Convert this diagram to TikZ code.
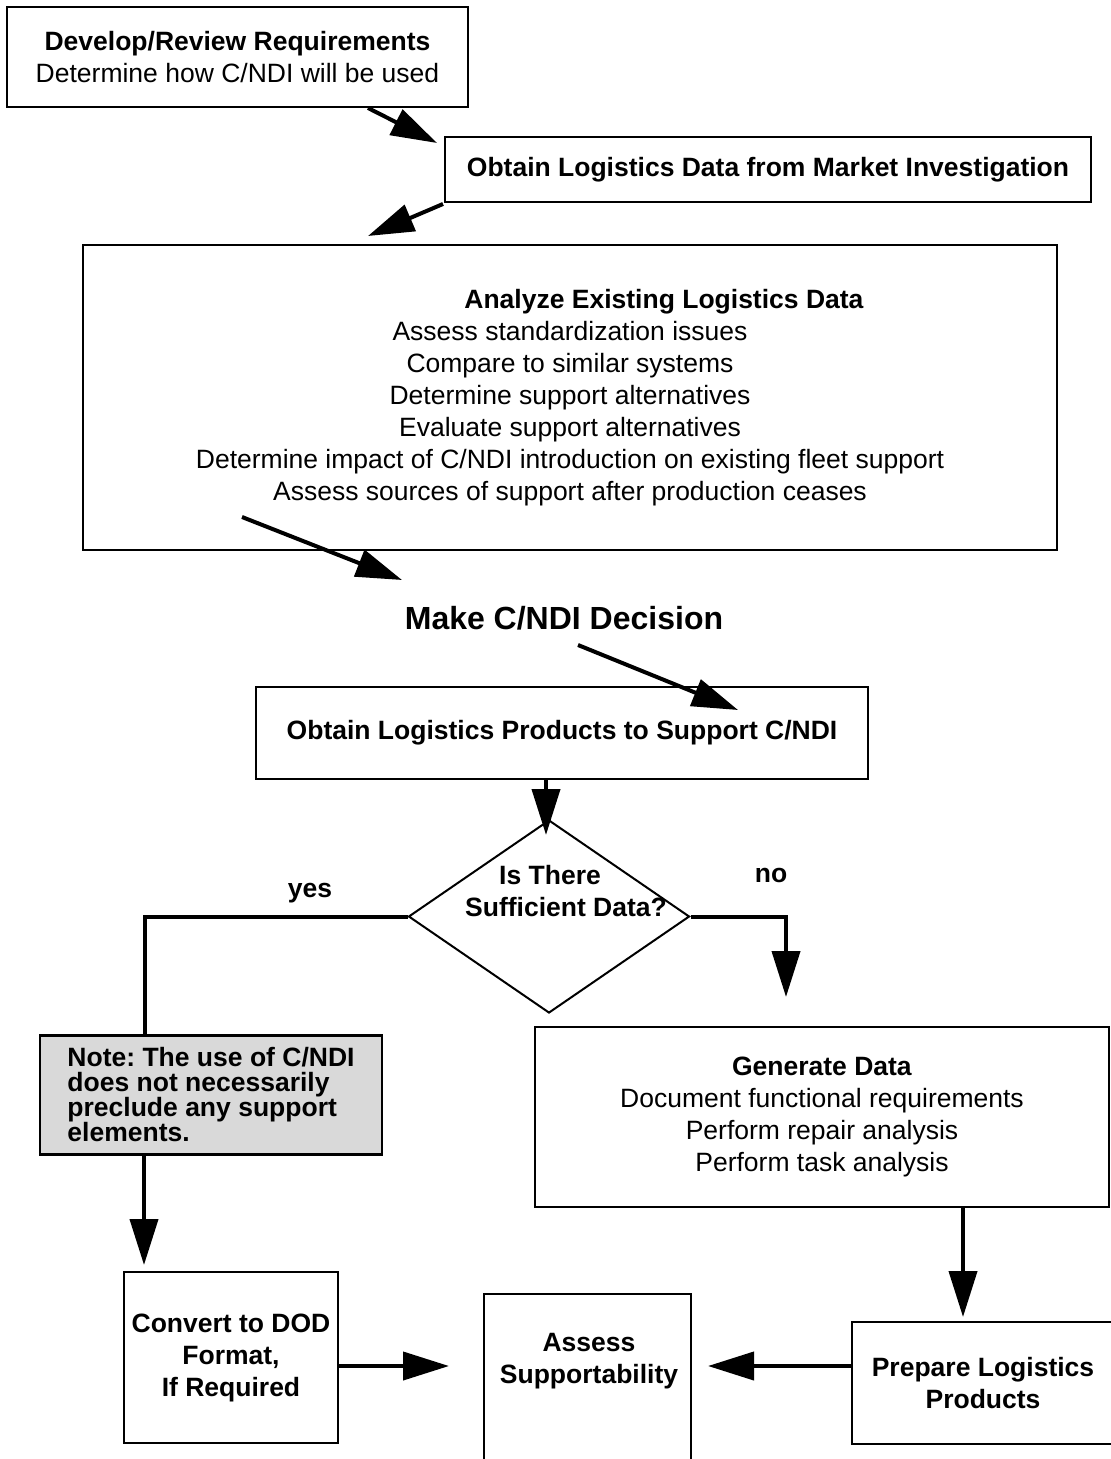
\documentclass[tikz,border=0pt]{standalone}
\usepackage{fontspec}
\setmainfont{Liberation Sans}
\usetikzlibrary{arrows.meta,shapes.geometric}
\frenchspacing
\begin{document}
\begin{tikzpicture}[x=0.5pt,y=-0.5pt,
		box/.style={draw,line width=1.2pt,inner sep=0pt,align=center},
		txt/.style={font=\fontsize{13.25}{16}\selectfont,align=center},
		hd/.style={font=\fontsize{13.25}{16}\selectfont\bfseries,align=center},
		arr/.style={line width=2pt,-{Triangle[length=23pt,width=14pt]}},
		con/.style={line width=2pt}]
				\clip (0,0) rectangle (1111,1459);
				\node[box,txt,minimum width=230.5pt,minimum height=50pt] (dev) at (237.5,57) {\textbf{Develop/Review Requirements}\\Determine how C/NDI will be used};
				\node[box,hd,minimum width=323pt,minimum height=32.5pt] (mkt) at (768,169.5) {Obtain Logistics Data from Market Investigation};
				\node[box,txt,minimum width=487pt,minimum height=152.5pt] (ana) at (570,397.5) {\hspace*{94pt}\textbf{Analyze Existing Logistics Data}\\Assess standardization issues\\Compare to similar systems\\Determine support alternatives\\Evaluate support alternatives\\Determine impact of C/NDI introduction on existing fleet support\\Assess sources of support after production ceases};
				\node[font=\fontsize{16}{19}\selectfont\bfseries] (mcd) at (564,618) {Make C/NDI Decision};
				\node[box,hd,minimum width=306pt,minimum height=46pt] (prod) at (562,733) {Obtain Logistics Products to Support C/NDI};
				\node[draw,diamond,line width=1pt,inner sep=0pt,minimum width=140.5pt,minimum height=96.5pt] (q) at (549,916.5) {};
				\node[hd] (qt) at (566,891) {Is There\hspace*{16pt}\\Sufficient Data?};
				\node[hd] (yes) at (310,893) {yes};
				\node[hd] (no) at (771,875) {no};
				\node[box,fill=black!15,minimum width=171pt,minimum height=59.5pt,align=left,font=\fontsize{13.25}{12.5}\selectfont\bfseries] (note) at (211,1095) {Note: The use of C/NDI\\does not necessarily\\preclude any support\\elements.};
				\node[box,txt,minimum width=287pt,minimum height=90pt] (gen) at (822,1117) {\textbf{Generate Data}\\Document functional requirements\\Perform repair analysis\\Perform task analysis};
				\node[box,hd,minimum width=107pt,minimum height=85.5pt] (conv) at (231,1357.5) {Convert to DOD\\Format,\\If Required};
				\node[box,minimum width=103.5pt,minimum height=90pt,anchor=north] (ass) at (587.5,1293) {};
				\node[hd] (asst) at (589,1361) {Assess\\Supportability};
				\node[box,hd,minimum width=131pt,minimum height=61pt] (prep) at (983,1383) {Prepare Logistics\\Products};
				\coordinate (devout) at (368,108);
				\coordinate (tomkt) at (437,143);
				\coordinate (mktout) at (443,204);
				\coordinate (toana) at (368,236);
				\coordinate (anaout) at (242,517);
				\coordinate (tomcd) at (402,580);
				\coordinate (mcdout) at (578,645);
				\coordinate (toprod) at (738,710);
				\coordinate (toq) at (546,835);
				\coordinate (yesdn) at (145,1036);
				\coordinate (toconv) at (144,1265);
				\coordinate (togen) at (786,997);
				\coordinate (toprep) at (963,1317);
				\coordinate (toassl) at (449,1366);
				\coordinate (toassr) at (708,1366);
				\draw[arr] (devout) -- (tomkt);
				\draw[arr] (mktout) -- (toana);
				\draw[arr] (anaout) -- (tomcd);
				\draw[arr] (mcdout) -- (toprod);
				\draw[arr] (prod.south -| toq) -- (toq);
				\draw[con] (q.west) -| (yesdn);
				\draw[arr] (note.south -| toconv) -- (toconv);
				\draw[arr] (q.east) -| (togen);
				\draw[arr] (gen.south -| toprep) -- (toprep);
				\draw[arr] (conv.east |- toassl) -- (toassl);
				\draw[arr] (prep.west |- toassr) -- (toassr);
\end{tikzpicture}
\end{document}
